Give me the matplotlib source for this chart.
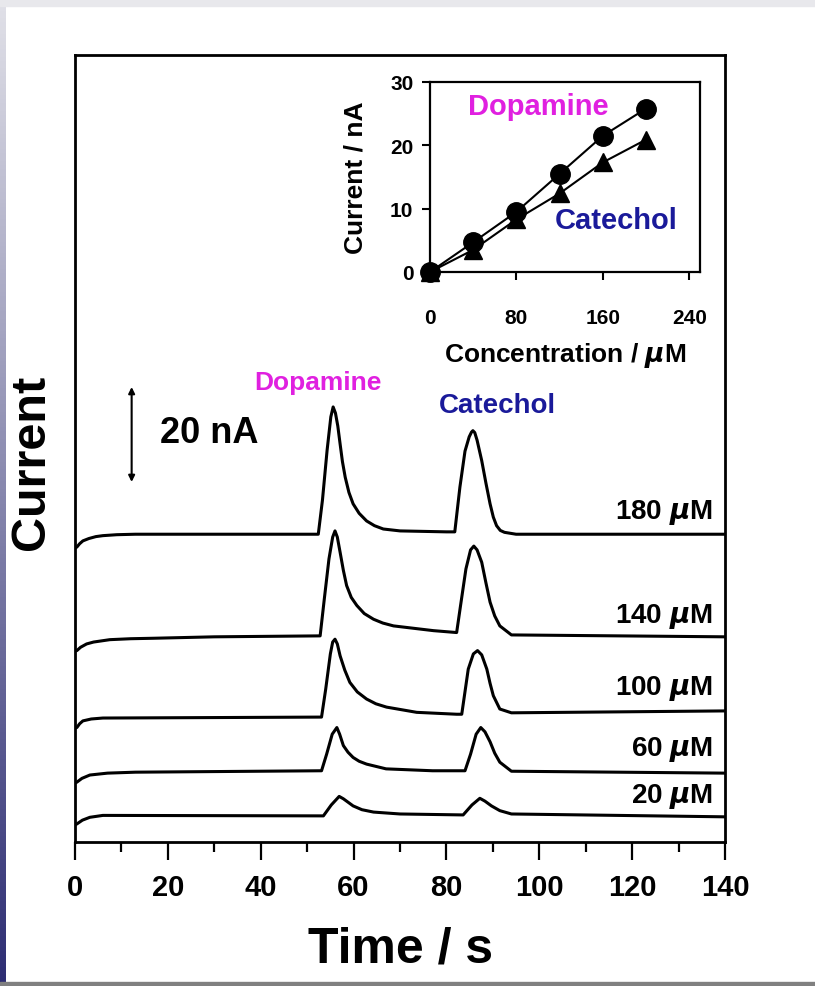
import numpy as np
import matplotlib
matplotlib.use('Agg')
import matplotlib.pyplot as plt
from matplotlib.patches import Rectangle

# ---- data ----
# inset: peak current vs concentration
conc = [0, 40, 80, 120, 160, 200]
dopamine_nA = [0, 4.7, 9.5, 15.5, 21.5, 25.8]
catechol_nA = [0, 3.5, 8.3, 12.4, 17.3, 20.9]

# amperograms (time in s, current in nA incl. vertical offset)
t_180 = [0, 0.4, 1.0, 1.7, 3, 4.5, 6, 9, 13, 30, 52.4, 53.3, 54.3, 55.1, 55.6, 56.1, 56.6, 57.1, 57.6, 58.2,
         59.0, 59.9, 61.2, 62.8, 64.5, 66.4, 70, 80, 81.8, 82.9, 84.0, 84.9, 85.4, 85.7, 86.1, 86.6, 87.6,
         88.5, 89.4, 90.1, 90.8, 91.6, 92.5, 95, 140]
i_180 = [61.9, 62.1, 62.8, 63.4, 63.9, 64.3, 64.5, 64.7, 64.8, 64.8, 64.8, 72.0, 82.5, 89.5, 91.6, 90.3, 87.6, 83.8, 80.1, 76.8,
         73.6, 71.2, 69.2, 67.6, 66.6, 65.9, 65.5, 65.3, 65.3, 74.7, 82.3, 85.3, 86.3, 86.6, 86.2, 84.6, 80.3,
         75.6, 71.2, 68.4, 66.6, 65.6, 65.2, 64.8, 64.8]

t_140 = [0, 0.4, 1.2, 2.5, 4, 7.5, 12, 17, 30, 52.8, 53.7, 54.7, 55.5, 56.0, 56.5, 57.1, 57.8, 58.5, 59.5, 60.7,
         62.3, 64.3, 66.3, 68.6, 77.2, 82.2, 83.0, 84.2, 85.2, 85.9, 86.6, 87.6, 88.5, 89.4, 90.4, 91.5, 94, 140]
i_140 = [40.2, 40.3, 41.0, 41.7, 42.1, 42.6, 42.8, 42.9, 43.2, 43.4, 51.2, 59.6, 64.2, 65.5, 64.2, 61.0, 57.2, 54.0, 51.5, 49.8,
         48.1, 46.9, 46.1, 45.5, 44.5, 44.1, 49.5, 57.5, 61.5, 62.3, 61.5, 58.9, 54.6, 50.5, 47.6, 45.5, 43.6, 43.2]

t_100 = [0, 0.4, 1.0, 1.7, 3.5, 6, 30, 53.1, 54.0, 55.0, 55.5, 56.0, 56.5, 57.1, 58.1, 59.2, 60.8, 62.8, 64.8,
         67.1, 73.6, 82.2, 83.3, 84.7, 85.8, 86.7, 87.6, 88.7, 89.4, 90.1, 91.5, 94, 140]
i_100 = [24.0, 24.1, 24.9, 25.5, 25.9, 26.1, 26.2, 26.3, 32.2, 39.6, 42.1, 42.7, 41.7, 39.2, 36.2, 33.6, 31.6, 30.1, 29.1,
         28.4, 27.3, 26.9, 26.9, 36.4, 39.6, 40.3, 39.4, 36.4, 33.4, 30.8, 28.0, 27.2, 27.6]

t_60 = [0, 0.4, 1.5, 3.2, 7, 13, 53.1, 54.2, 55.4, 56.4, 57.0, 57.8, 58.8, 59.9, 61.2, 62.8, 67, 77, 84, 85.2,
        86.4, 87.4, 88.3, 89.4, 90.4, 91.5, 94, 140]
i_60 = [12.4, 12.6, 13.4, 14.1, 14.5, 14.7, 15.0, 18.5, 22.7, 24.1, 22.7, 20.3, 18.9, 17.8, 17.0, 16.4, 15.4, 15.0, 15.0, 18.5,
        22.7, 24.1, 23.2, 21.1, 18.7, 16.8, 14.9, 14.5]

t_20 = [0, 0.4, 1.6, 3.2, 6, 53.5, 55.2, 56.9, 57.8, 59.9, 61.8, 64.3, 70, 83.6, 85.5, 87.2, 88.3, 89.7, 91.5, 94, 140]
i_20 = [3.6, 3.8, 4.6, 5.2, 5.6, 5.5, 7.8, 9.6, 9.1, 7.6, 6.8, 6.3, 5.9, 5.7, 7.8, 9.2, 8.6, 7.6, 6.6, 5.9, 5.3]

labels = ['180', '140', '100', '60', '20']
label_y = [69.5, 47.6, 32.6, 19.6, 9.7]

# ---- fonts ----
plt.rcParams['font.family'] = ['Liberation Sans', 'DejaVu Sans']
plt.rcParams['font.weight'] = 'bold'

fig = plt.figure(figsize=(8.15, 9.87), dpi=100)

# slide background strips
fig.patches.append(Rectangle((0, 1 - 7 / 987), 1, 7 / 987, transform=fig.transFigure,
                             color='#e8e8ec', zorder=0))
fig.patches.append(Rectangle((0, 0), 1, 4.5 / 987, transform=fig.transFigure,
                             color='#808080', zorder=0))
bar = fig.add_axes([0, 0, 6 / 815, 1])
grad = np.linspace(0, 1, 256)[:, None]
cols = np.array([225, 225, 232]) * (1 - grad[..., None]) + np.array([45, 45, 115]) * grad[..., None]
bar.imshow(cols.astype(np.uint8), aspect='auto', extent=[0, 1, 0, 1])
bar.axis('off')

# ---- main amperogram ----
ax = fig.add_axes([75 / 815, 1 - 843 / 987, 650 / 815, 787 / 987])
for t, i in [(t_180, i_180), (t_140, i_140), (t_100, i_100), (t_60, i_60), (t_20, i_20)]:
    ax.plot(t, i, color='black', lw=2.2, solid_joinstyle='round')

ax.set_xlim(0, 140)
ax.set_ylim(0, 165.7)
ax.set_xticks(np.arange(0, 141, 20))
ax.set_xticks(np.arange(10, 140, 20), minor=True)
ax.set_yticks([])
ax.tick_params(axis='x', which='major', direction='out', length=13, width=1.6, pad=9, labelsize=21)
ax.tick_params(axis='x', which='minor', direction='out', length=7, width=1.6)
for s in ax.spines.values():
    s.set_linewidth(2)
ax.set_xlabel('Time / s', fontsize=36, fontweight='bold', labelpad=18)
ax.set_ylabel('Current', fontsize=35, fontweight='bold')
ax.yaxis.set_label_coords(-0.032, 0.484)

for lab, y in zip(labels, label_y):
    ax.text(137.4, y, lab + r' $\mu$M', ha='right', va='center', fontsize=20, fontweight='bold')

ax.text(52.3, 96.8, 'Dopamine', color='#e020e0', ha='center', va='center', fontsize=19, fontweight='bold')
ax.text(90.9, 92.0, 'Catechol', color='#1a1a9a', ha='center', va='center', fontsize=20, fontweight='bold')

# scale bar
ax.annotate('', xy=(12.2, 95.8), xytext=(12.2, 75.8),
            arrowprops=dict(arrowstyle='<|-|>', color='black', lw=1.5, mutation_scale=9,
                            shrinkA=0, shrinkB=0))
ax.text(18.3, 86.3, '20 nA', ha='left', va='center', fontsize=26, fontweight='bold')

# ---- inset calibration ----
ins = fig.add_axes([430 / 815, 1 - 273 / 987, 270 / 815, 190 / 987])
ins.plot(conc, dopamine_nA, color='black', lw=1.5, marker='o', markersize=14, clip_on=False, zorder=3)
ins.plot(conc, catechol_nA, color='black', lw=1.5, marker='^', markersize=13, clip_on=False, zorder=3)
ins.set_xlim(0, 250)
ins.set_ylim(0, 30)
ins.set_xticks([0, 80, 160, 240])
ins.set_yticks([0, 10, 20, 30])
ins.tick_params(direction='out', length=6, width=1.5, labelsize=15, pad=6)
ins.tick_params(axis='x', pad=20)
for s in ins.spines.values():
    s.set_linewidth(1.6)
ins.set_xlabel(r'Concentration / $\mu$M', fontsize=19, fontweight='bold', labelpad=9)
ins.set_ylabel('Current / nA', fontsize=19, fontweight='bold', labelpad=16)
ins.text(100, 26.2, 'Dopamine', color='#e020e0', ha='center', va='center', fontsize=21, fontweight='bold')
ins.text(172, 8.2, 'Catechol', color='#1a1a9a', ha='center', va='center', fontsize=21, fontweight='bold')

fig.savefig('out.png', dpi=100)
